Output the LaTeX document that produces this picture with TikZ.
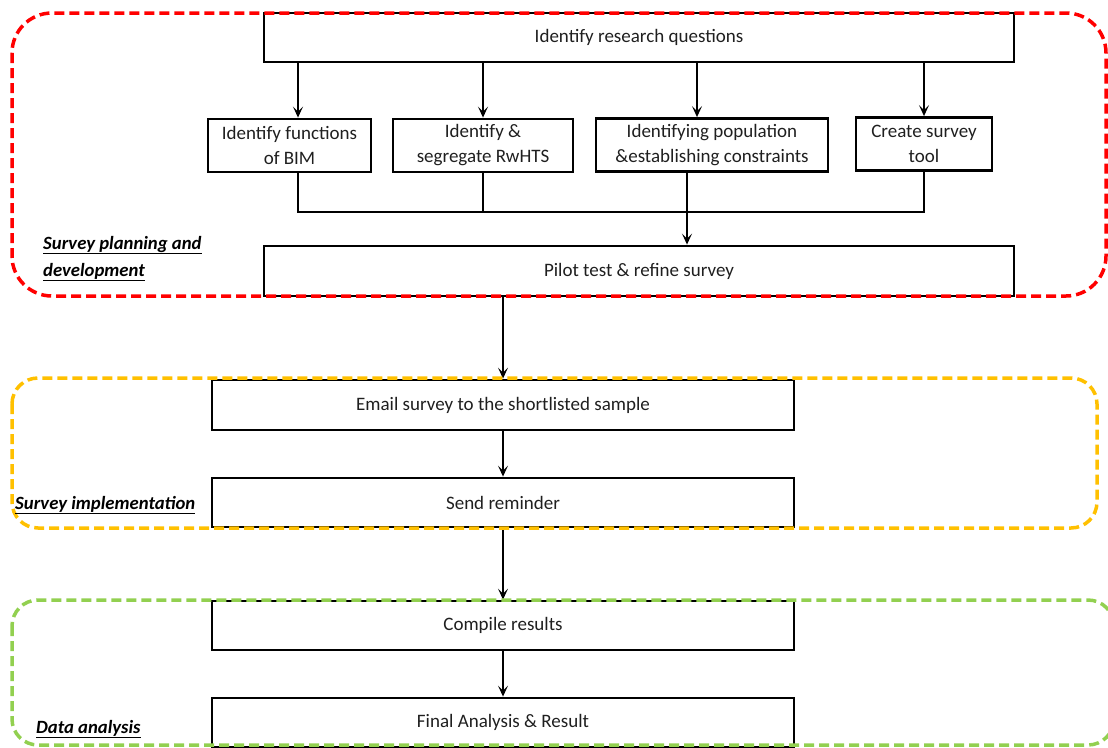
\documentclass[tikz,border=0pt]{standalone}
\usepackage{fontspec}
\setmainfont{Carlito}
\usetikzlibrary{arrows.meta}
\definecolor{grpred}{HTML}{FF0000}
\definecolor{grpyellow}{HTML}{FFC000}
\definecolor{grpgreen}{HTML}{92D050}
\begin{document}
\begin{tikzpicture}[x=1pt,y=-1pt,
  stepbox/.style={draw=black, line width=2.8pt, inner sep=0pt, align=center,
    font=\fontsize{19}{25}\selectfont, text=black!88},
  link/.style={line width=1.5pt, draw=black},
  arr/.style={link, -{Stealth[length=11pt,width=10pt,inset=5pt]}},
  group/.style={line width=3.5pt, dash pattern=on 10pt off 5pt},
  grouplabel/.style={anchor=base west, inner sep=0pt,
    font=\fontsize{18.7}{25}\selectfont\bfseries\itshape}]
\useasboundingbox (0,0) rectangle (1108,747);

% main steps
\node[stepbox, minimum width=750pt, minimum height=49pt] (top) at (639,37.5) {Identify research questions};
\node[stepbox, minimum width=163pt, minimum height=53pt] (b1) at (289.5,145.5) {Identify functions\\of BIM};
\node[stepbox, minimum width=180pt, minimum height=53pt] (b2) at (483,145.5) {Identify \&\\segregate RwHTS};
\node[stepbox, minimum width=232pt, minimum height=53pt] (b3) at (712,145) {Identifying population\\\&establishing constraints};
\node[stepbox, minimum width=136pt, minimum height=53pt] (b4) at (924,144) {Create survey\\tool};
\node[stepbox, minimum width=750pt, minimum height=50pt] (pilot) at (639,271) {Pilot test \& refine survey};
\node[stepbox, minimum width=582pt, minimum height=50pt] (email) at (503,405) {Email survey to the shortlisted sample};
\node[stepbox, minimum width=582pt, minimum height=49pt] (remind) at (503,502.5) {Send reminder};
\node[stepbox, minimum width=582pt, minimum height=49pt] (compile) at (503,625.5) {Compile results};
\node[stepbox, minimum width=582pt, minimum height=49pt] (final) at (503,722.5) {Final Analysis \& Result};

% fan-out and merge
\coordinate (bus) at (0,212);
\coordinate (in1) at (298,0);
\coordinate (in3) at (697,0);
\coordinate (out3) at (687,0);
\draw[arr] (in1 |- top.south) -- (in1 |- b1.north);
\draw[arr] (b2.north |- top.south) -- (b2.north);
\draw[arr] (in3 |- top.south) -- (in3 |- b3.north);
\draw[arr] (b4.north |- top.south) -- (b4.north);
\draw[link] (in1 |- b1.south) |- (b4.south |- bus) -- (b4.south);
\draw[link] (b2.south) -- (b2.south |- bus);
\draw[arr] (out3 |- b3.south) -- (out3 |- pilot.north);

% main flow
\draw[arr] (email.north |- pilot.south) -- (email.north);
\draw[arr] (email.south) -- (remind.north);
\draw[arr] (remind.south) -- (compile.north);
\draw[arr] (compile.south) -- (final.north);

% phase groups
\draw[group, grpred, rounded corners=40pt] (12,13) rectangle (1106,296);
\draw[group, grpyellow, rounded corners=26pt] (12,378) rectangle (1097,528);
\draw[group, grpgreen, rounded corners=26pt] (12,600) rectangle (1114,745);

% phase labels
\node[grouplabel] (lp1) at (43,249) {\underline{Survey planning and}};
\node[grouplabel] (lp2) at (43,276) {\underline{development}};
\node[grouplabel] (li) at (15,509) {\underline{Survey implementation}};
\node[grouplabel] (ld) at (36,733) {\underline{Data analysis}};
\end{tikzpicture}
\end{document}
